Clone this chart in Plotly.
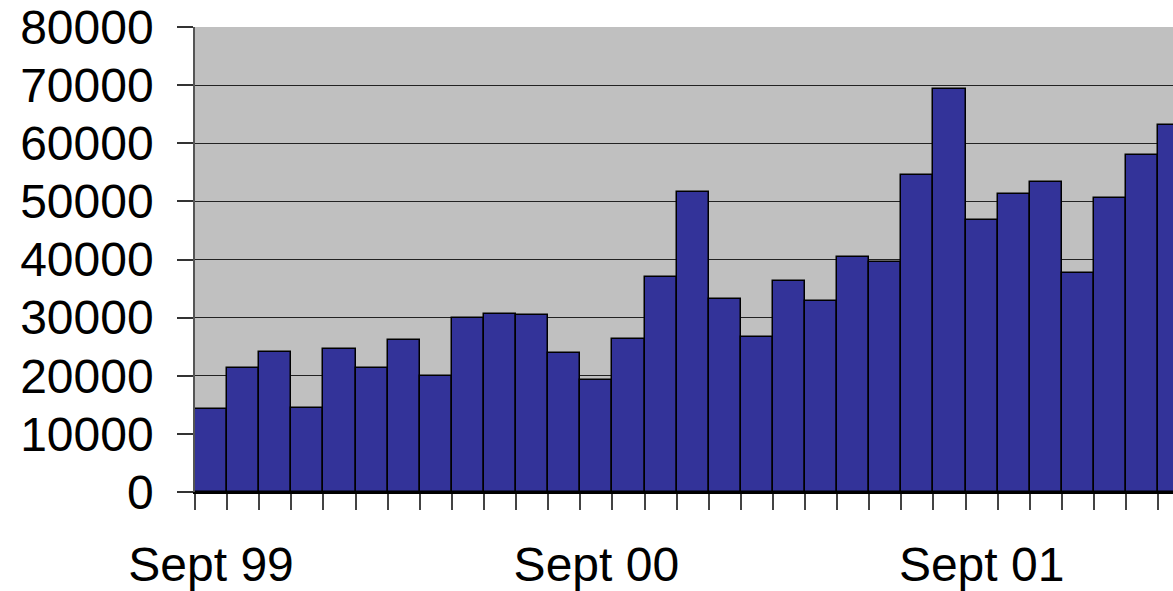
import plotly.graph_objects as go

months = ["Sep 99", "Oct 99", "Nov 99", "Dec 99", "Jan 00", "Feb 00", "Mar 00", "Apr 00",
          "May 00", "Jun 00", "Jul 00", "Aug 00", "Sep 00", "Oct 00", "Nov 00", "Dec 00",
          "Jan 01", "Feb 01", "Mar 01", "Apr 01", "May 01", "Jun 01", "Jul 01", "Aug 01",
          "Sep 01", "Oct 01", "Nov 01", "Dec 01", "Jan 02", "Feb 02", "Mar 02"]
values = [14200, 21300, 24100, 14400, 24600, 21300, 26100, 20000,
          30000, 30600, 30400, 23900, 19200, 26300, 37000, 51600,
          33200, 26600, 36300, 32900, 40500, 39600, 54600, 69400,
          46800, 51300, 53400, 37600, 50500, 57900, 63100]
label_idx = [0, 12, 24]
label_text = ["Sept 99", "Sept 00", "Sept 01"]
y_ticks = [0, 10000, 20000, 30000, 40000, 50000, 60000, 70000, 80000]

x = list(range(len(values)))
font = dict(family="Liberation Sans, Arial, sans-serif", size=48, color="black")

fig = go.Figure(go.Bar(
    x=x, y=values, width=1, customdata=months,
    marker=dict(color="#333399", line=dict(color="black", width=1.5)),
    hovertemplate="%{customdata}: %{y}<extra></extra>",
))

fig.update_layout(
    width=1173, height=591,
    margin=dict(l=195, r=0, t=27, b=99, autoexpand=False),
    paper_bgcolor="white", plot_bgcolor="#C0C0C0",
    showlegend=False, bargap=0,
    font=font,
)
fig.update_xaxes(
    range=[-0.5, 29.96], automargin=False,
    tickmode="array", tickvals=label_idx, ticktext=label_text,
    ticks="", tickfont=font, ticklabelstandoff=30,
    showgrid=False, zeroline=False,
    showline=True, linecolor="black", linewidth=1.5,
    minor=dict(tickmode="array", tickvals=[i - 0.5 for i in range(len(values) + 1)],
               ticks="outside", ticklen=16, tickcolor="#444", tickwidth=1.5, showgrid=False),
)
fig.update_yaxes(
    range=[0, 80000], automargin=False,
    tickmode="array", tickvals=y_ticks, ticktext=[str(v) for v in y_ticks],
    ticks="outside", ticklen=16, tickcolor="#333", tickwidth=1.5,
    tickfont=font, ticklabelstandoff=14,
    showgrid=True, gridcolor="#222", gridwidth=1,
    zeroline=False, showline=True, linecolor="#555", linewidth=1.5,
)

fig.write_html("out.html", config={"displayModeBar": False},
               post_script="document.body.style.margin='0';document.body.style.overflow='hidden';")
